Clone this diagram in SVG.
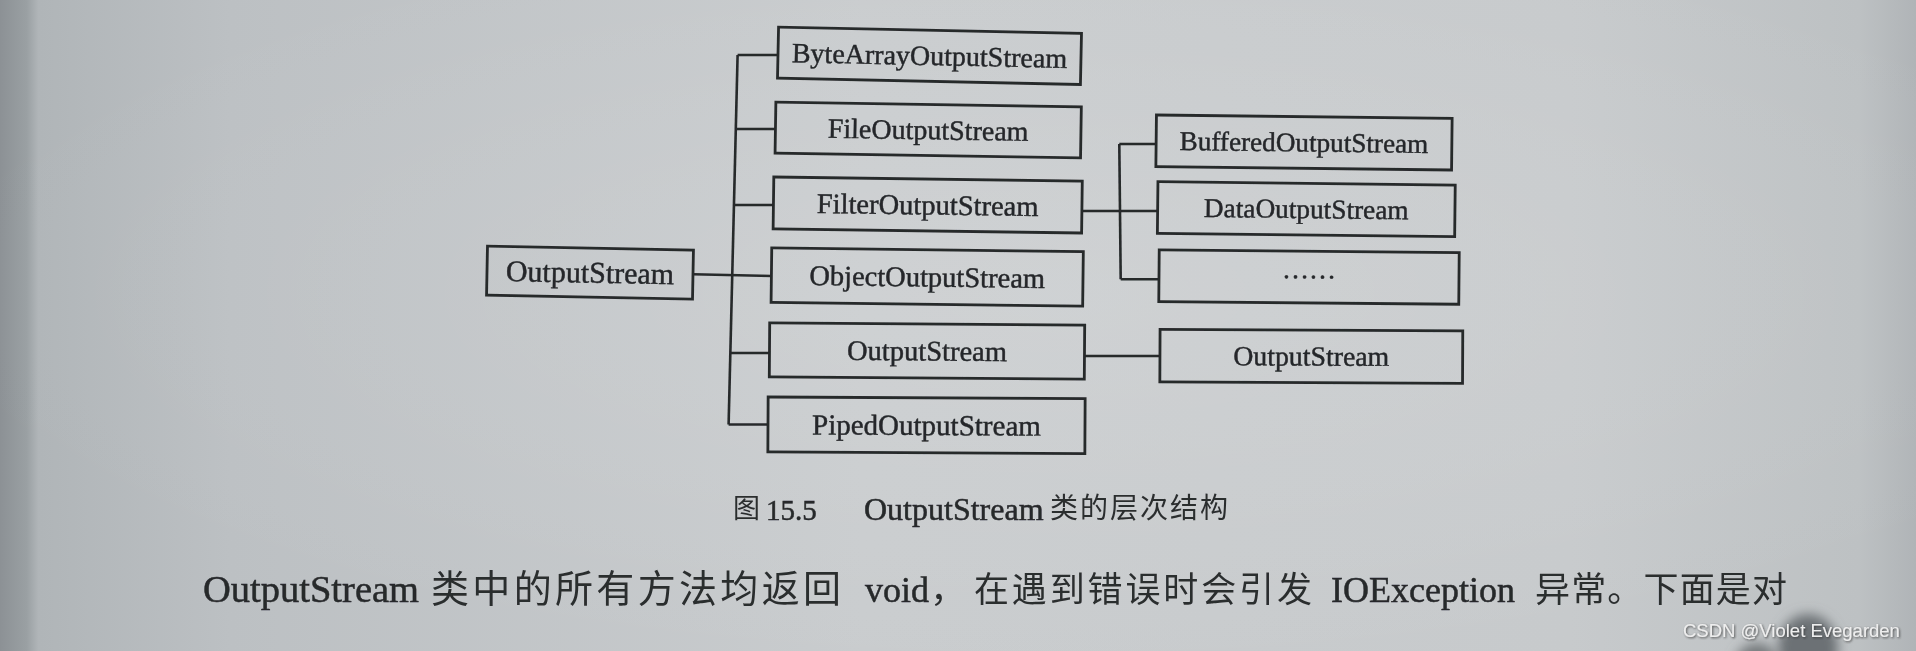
<svg xmlns="http://www.w3.org/2000/svg" width="1916" height="651" viewBox="0 0 1916 651">
<defs>
<style>
.box{fill:none;stroke:#27292b;stroke-width:2.8}
.lbl{font-family:"Liberation Serif","Times New Roman",serif;fill:#25272a;stroke:#25272a;stroke-width:0.45;text-anchor:middle}
.conn path{fill:none;stroke:#27292b;stroke-width:2.6}
.lat{font-family:"Liberation Serif","Times New Roman",serif;fill:#27292b;stroke:#27292b;stroke-width:0.5}
.cjk{font-family:"Noto Sans CJK SC","Noto Sans CJK TC",sans-serif;fill:#2b2d2f}
.wm{font-family:"Liberation Sans",Arial,sans-serif;font-size:18.5px;fill:#eeeeee}
</style>
<linearGradient id="pg" x1="0" y1="0" x2="1" y2="0">
<stop offset="0" stop-color="#8c9195"/>
<stop offset="0.014" stop-color="#9aa0a3"/>
<stop offset="0.02" stop-color="#b0b5b8"/>
<stop offset="0.12" stop-color="#bcc0c3"/>
<stop offset="0.45" stop-color="#c9ccce"/>
<stop offset="0.82" stop-color="#c7cacc"/>
<stop offset="0.97" stop-color="#bdc1c3"/>
<stop offset="1" stop-color="#b0b4b7"/>
</linearGradient>
<radialGradient id="lt" cx="0.55" cy="0.45" r="0.6">
<stop offset="0" stop-color="#ffffff" stop-opacity="0.12"/>
<stop offset="1" stop-color="#ffffff" stop-opacity="0"/>
</radialGradient>
<filter id="soft" x="-5%" y="-5%" width="110%" height="110%"><feGaussianBlur stdDeviation="0.6"/></filter>
<filter id="blob" x="-50%" y="-50%" width="200%" height="200%"><feGaussianBlur stdDeviation="6"/></filter>
<filter id="sh" x="-5%" y="-30%" width="110%" height="160%"><feDropShadow dx="1" dy="1" stdDeviation="0.8" flood-color="#333333" flood-opacity="0.8"/></filter>
</defs>

<g id="background">
<rect x="0" y="0" width="1916" height="651" fill="url(#pg)"/>
<rect x="0" y="0" width="1916" height="651" fill="url(#lt)"/>
<ellipse cx="1808" cy="648" rx="30" ry="34" fill="#6c7174" filter="url(#blob)"/>
<ellipse cx="1757" cy="665" rx="22" ry="22" fill="#74797c" filter="url(#blob)"/>
</g>

<g filter="url(#soft)">
<g id="connectors" class="conn">
<path d="M737.6,55 L728.6,424.5"/>
<path d="M737.6,55 H778.5"/>
<path d="M735.8,129 H776"/>
<path d="M733.9,205 H774"/>
<path d="M693,274.3 L772,276"/>
<path d="M730.3,353 H770"/>
<path d="M728.6,424.5 H768.5"/>
<path d="M1082.5,211 H1158"/>
<path d="M1119.3,144 L1120.7,279.3"/>
<path d="M1119.3,144 H1156.5"/>
<path d="M1120.7,279.3 H1159.5"/>
<path d="M1084.5,356 H1160.5"/>
</g>

<g id="node-root" transform="rotate(1.1 590 272.6)">
<rect class="box" x="487" y="248.1" width="206" height="49"/>
<text class="lbl" x="590" y="282.6" font-size="30">OutputStream</text>
</g>
<g id="node-bytearray" transform="rotate(1.2 929.5 55.8)">
<rect class="box" x="778" y="30.3" width="303" height="51"/>
<text class="lbl" x="929.5" y="65.1" font-size="28">ByteArrayOutputStream</text>
</g>
<g id="node-file" transform="rotate(0.9 928.2 130)">
<rect class="box" x="775.45" y="104.5" width="305.5" height="51"/>
<text class="lbl" x="928.2" y="139.3" font-size="28">FileOutputStream</text>
</g>
<g id="node-filter" transform="rotate(0.75 927.7 205)">
<rect class="box" x="773.45" y="179" width="308.5" height="52"/>
<text class="lbl" x="927.7" y="214.5" font-size="28.5">FilterOutputStream</text>
</g>
<g id="node-object" transform="rotate(0.7 927.2 277)">
<rect class="box" x="771.4" y="249.75" width="311.6" height="54.5"/>
<text class="lbl" x="927.2" y="286.5" font-size="28.5">ObjectOutputStream</text>
</g>
<g id="node-output" transform="rotate(0.4 927 351)">
<rect class="box" x="769.5" y="324" width="315" height="54"/>
<text class="lbl" x="927" y="360.5" font-size="28.5">OutputStream</text>
</g>
<g id="node-piped" transform="rotate(0.3 926.5 425.3)">
<rect class="box" x="768" y="397.8" width="317" height="55"/>
<text class="lbl" x="926.5" y="435" font-size="29">PipedOutputStream</text>
</g>
<g id="node-buffered" transform="rotate(0.64 1304 142.5)">
<rect class="box" x="1156.15" y="116.65" width="295.7" height="51.7"/>
<text class="lbl" x="1304" y="151.5" font-size="27.2">BufferedOutputStream</text>
</g>
<g id="node-data" transform="rotate(0.64 1306.3 209.2)">
<rect class="box" x="1157.65" y="183.35" width="297.3" height="51.7"/>
<text class="lbl" x="1306.3" y="218.2" font-size="27.3">DataOutputStream</text>
</g>
<g id="node-more" transform="rotate(0.5 1309 277.1)">
<rect class="box" x="1159" y="251.25" width="300" height="51.7"/>
<text class="lbl" x="1309" y="278.3" font-size="27">……</text>
</g>
<g id="node-output2" transform="rotate(0.26 1311.3 356.4)">
<rect class="box" x="1159.95" y="330.15" width="302.7" height="52.5"/>
<text class="lbl" x="1311.3" y="365.6" font-size="27.8">OutputStream</text>
</g>

<g id="caption">
<text class="cjk" x="733" y="518" font-size="27">图</text>
<text class="lat" x="766" y="520" font-size="29">15.5</text>
<text class="lat" x="864" y="520" font-size="32">OutputStream</text>
<text class="cjk" x="1050" y="518" font-size="28" textLength="178" lengthAdjust="spacing">类的层次结构</text>
</g>

<g id="body-text">
<text class="lat" x="203" y="602" font-size="38.5">OutputStream</text>
<text class="cjk" x="431" y="602" font-size="38" textLength="410" lengthAdjust="spacing">类中的所有方法均返回</text>
<text class="lat" x="865" y="602" font-size="36">void</text>
<text class="cjk" x="930" y="602" font-size="36">，</text>
<text class="cjk" x="974" y="602" font-size="35" textLength="338" lengthAdjust="spacing">在遇到错误时会引发</text>
<text class="lat" x="1331" y="602" font-size="36">IOException</text>
<text class="cjk" x="1535" y="602" font-size="35" textLength="252" lengthAdjust="spacing">异常。下面是对</text>
</g>
</g>

<text class="wm" x="1683" y="637" filter="url(#sh)">CSDN @Violet Evegarden</text>
</svg>
